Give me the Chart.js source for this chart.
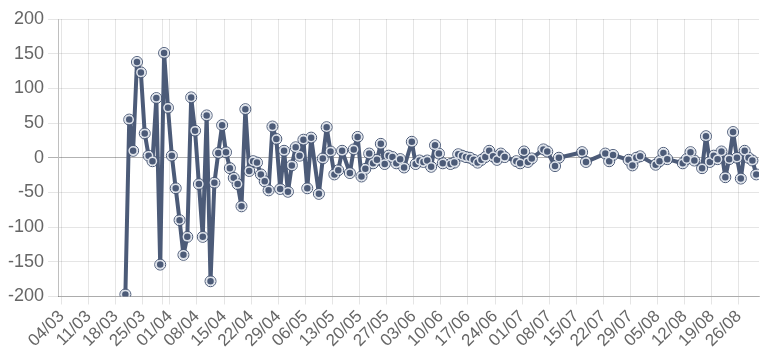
<!DOCTYPE html>
<html>
<head>
<meta charset="utf-8">
<script src="https://cdn.jsdelivr.net/npm/chart.js@4"></script>
<style>
  html, body { margin: 0; padding: 0; background: #fff; }
  #wrap { width: 771px; height: 357px; position: relative; }
</style>
</head>
<body>
<div id="wrap"><canvas id="chart"></canvas></div>
<script>
// DATA TO DISPLAY
const dates = [
  "2018-03-20","2018-03-21","2018-03-22","2018-03-23","2018-03-24","2018-03-25","2018-03-26","2018-03-27",
  "2018-03-28","2018-03-29","2018-03-30","2018-03-31","2018-04-01","2018-04-02","2018-04-03","2018-04-04",
  "2018-04-05","2018-04-06","2018-04-07","2018-04-08","2018-04-09","2018-04-10","2018-04-11","2018-04-12",
  "2018-04-13","2018-04-14","2018-04-15","2018-04-16","2018-04-17","2018-04-18","2018-04-19","2018-04-20",
  "2018-04-21","2018-04-22","2018-04-23","2018-04-24","2018-04-25","2018-04-26","2018-04-27","2018-04-28",
  "2018-04-29","2018-04-30","2018-05-01","2018-05-02","2018-05-03","2018-05-04","2018-05-05","2018-05-06",
  "2018-05-07","2018-05-09","2018-05-10","2018-05-11","2018-05-12","2018-05-13","2018-05-14","2018-05-15",
  "2018-05-17","2018-05-18","2018-05-19","2018-05-20","2018-05-21","2018-05-22","2018-05-23","2018-05-24",
  "2018-05-25","2018-05-26","2018-05-27","2018-05-28","2018-05-29","2018-05-30","2018-05-31","2018-06-02",
  "2018-06-03","2018-06-04","2018-06-05","2018-06-06","2018-06-07","2018-06-08","2018-06-09","2018-06-10",
  "2018-06-12","2018-06-13","2018-06-14","2018-06-15","2018-06-16","2018-06-17","2018-06-18","2018-06-19",
  "2018-06-20","2018-06-21","2018-06-22","2018-06-23","2018-06-24","2018-06-25","2018-06-26","2018-06-29",
  "2018-06-30","2018-07-01","2018-07-02","2018-07-03","2018-07-06","2018-07-07","2018-07-09","2018-07-10",
  "2018-07-16","2018-07-17","2018-07-22","2018-07-23","2018-07-24","2018-07-28","2018-07-29","2018-07-30",
  "2018-07-31","2018-08-04","2018-08-05","2018-08-06","2018-08-07","2018-08-11","2018-08-12","2018-08-13",
  "2018-08-14","2018-08-16","2018-08-17","2018-08-18","2018-08-19","2018-08-20","2018-08-21","2018-08-22",
  "2018-08-23","2018-08-24","2018-08-25","2018-08-26","2018-08-27","2018-08-28","2018-08-29","2018-08-30"
];

const values = [
  -197, 55, 10, 138, 123, 35, 3, -5,
  86, -154, 151, 72, 3, -44, -90, -140,
  -114, 87, 39, -38, -114, 61, -178, -36,
  7, 47, 8, -15, -29, -38, -70, 70,
  -19, -5, -7, -24, -34, -47, 45, 27,
  -45, 10, -49, -11, 15, 3, 26, -44,
  29, -52, -1, 44, 9, -24, -18, 10,
  -22, 12, 30, -27, -16, 6, -8, -3,
  20, -9, 3, 1, -8, -2, -14, 23,
  -9, -4, -6, -4, -13, 18, 6, -8,
  -9, -7, 5, 3, 1, 0, -3, -7,
  -3, 1, 10, 2, -3, 6, 1, -5,
  -8, 9, -6, -1, 12, 9, -12, 0,
  8, -6, 6, -5, 4, -3, -11, 0,
  2, -10, -5, 7, -2, -8, -2, 8,
  -4, -15, 31, -6, 3, -2, 9, -28,
  -2, 37, 0, -30, 10, 0, -4, -24
];

// axis range and tick labels (days counted from 04/03)
const startDate = "2018-03-04";
const xMin = -0.9;
const xMax = 180.2;
const weekTicks = [0, 7, 14, 21, 26, 28, 35, 42, 49, 56, 63, 70, 77, 84, 91, 98, 105, 112, 119, 126, 133, 140, 147, 154, 161, 168, 175];
const yTicks = [-200, -150, -100, -50, 0, 50, 100, 150, 200];

const DAY = 86400000;
function dayIndex(iso) {
  const [y, m, d] = iso.split("-").map(Number);
  const [y0, m0, d0] = startDate.split("-").map(Number);
  return (Date.UTC(y, m - 1, d) - Date.UTC(y0, m0 - 1, d0)) / DAY;
}
function dayLabel(n) {
  const [y0, m0, d0] = startDate.split("-").map(Number);
  const dt = new Date(Date.UTC(y0, m0 - 1, d0) + n * DAY);
  const dd = String(dt.getUTCDate()).padStart(2, "0");
  const mm = String(dt.getUTCMonth() + 1).padStart(2, "0");
  return dd + "/" + mm;
}

const points = dates.map((d, i) => ({ x: dayIndex(d) + 0.5, y: values[i] }));

const lineColor = "#4c5b78";
const textColor = "#666";
const font = { family: "'Liberation Sans', Arial, sans-serif" };

// CONFIGURE THE CHART
const cfg = {
  type: "line",
  data: {
    datasets: [
      {
        data: points,
        showLine: false,
        pointRadius: 5.5,
        pointBackgroundColor: "rgba(0,0,0,0)",
        pointBorderColor: lineColor,
        pointBorderWidth: 1,
        order: 2
      },
      {
        data: points,
        borderColor: lineColor,
        borderWidth: 4,
        borderJoinStyle: "round",
        tension: 0,
        pointRadius: 4,
        pointBackgroundColor: lineColor,
        pointBorderColor: "#dde2ea",
        pointBorderWidth: 1.5,
        order: 1
      }
    ]
  },
  options: {
    responsive: true,
    maintainAspectRatio: false,
    animation: false,
    layout: { padding: { top: 19, right: 12, left: 4, bottom: 4 } },
    plugins: {
      legend: { display: false },
      tooltip: { enabled: false }
    },
    scales: {
      x: {
        type: "linear",
        min: xMin,
        max: xMax,
        afterBuildTicks: (scale) => {
          scale.ticks = weekTicks.map(v => ({ value: v }));
        },
        grid: { color: "rgba(0,0,0,0.1)", tickLength: 8 },
        border: { color: "rgba(0,0,0,0.25)" },
        ticks: {
          autoSkip: false,
          minRotation: 45,
          maxRotation: 45,
          color: textColor,
          font: { ...font, size: 17 },
          padding: 2,
          callback: (v) => (v % 7 === 0 ? dayLabel(v) : "")
        }
      },
      y: {
        min: -200,
        max: 200,
        afterBuildTicks: (scale) => {
          scale.ticks = yTicks.map(v => ({ value: v }));
        },
        grid: {
          tickLength: 10,
          color: (ctx) => (ctx.tick && ctx.tick.value === 0 ? "rgba(0,0,0,0.3)" : "rgba(0,0,0,0.1)")
        },
        border: { color: "rgba(0,0,0,0.25)" },
        ticks: {
          color: textColor,
          font: { ...font, size: 18 },
          padding: 4
        }
      }
    }
  }
};

// CREATE THE CHART
new Chart(document.getElementById("chart"), cfg);
</script>
</body>
</html>
